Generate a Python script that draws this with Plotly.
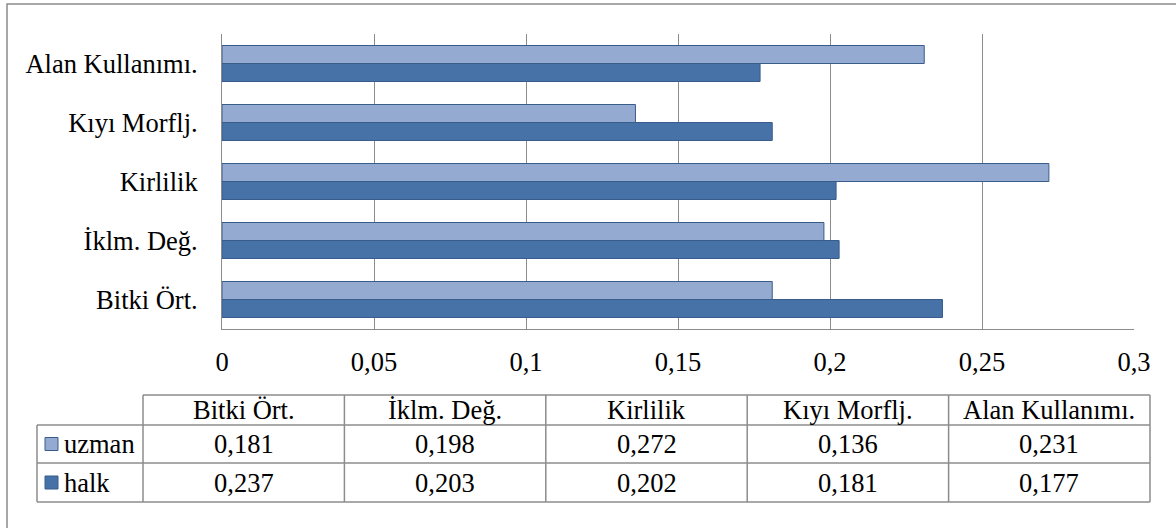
import plotly.graph_objects as go

categories = ["Bitki Ört.", "İklm. Değ.", "Kirlilik", "Kıyı Morflj.", "Alan Kullanımı."]
uzman = [0.181, 0.198, 0.272, 0.136, 0.231]
halk = [0.237, 0.203, 0.202, 0.181, 0.177]
series_names = ["uzman", "halk"]
tick_vals = [0, 0.05, 0.1, 0.15, 0.2, 0.25, 0.3]
tick_text = ["0", "0,05", "0,1", "0,15", "0,2", "0,25", "0,3"]

W, H = 1176, 528
FONT = "Liberation Serif"
FS = 26.5
C_LIGHT = "#95AAD1"
C_DARK = "#4672A8"
C_EDGE = "#385D8A"
GRID = "#8C8C8C"

def px(x):
    return x / W

def py(y):
    return 1 - y / H

# plot area in pixels
PL, PR, PT, PB = 222, 1134, 34, 329

fig = go.Figure()
fig.add_trace(go.Bar(y=categories, x=halk, orientation="h", name="halk",
                     marker=dict(color=C_DARK, line=dict(color=C_EDGE, width=1))))
fig.add_trace(go.Bar(y=categories, x=uzman, orientation="h", name="uzman",
                     marker=dict(color=C_LIGHT, line=dict(color=C_EDGE, width=1))))

shapes = []
anns = []

# outer chart border (left and top visible)
shapes.append(dict(type="rect", xref="paper", yref="paper",
                   x0=px(7), x1=px(W + 10), y0=py(H + 10), y1=py(4),
                   line=dict(color="#8C8C8C", width=1.5), fillcolor="rgba(0,0,0,0)", layer="below"))

# data table geometry
TL_LEG, TL, TR = 37, 143, 1150
ROW_Y = [395, 425, 463, 502]
ncol = len(categories)
colw = (TR - TL) / ncol
tcol = "#8C8C8C"
lw = 1.5

def hline(x0, x1, y):
    shapes.append(dict(type="line", xref="paper", yref="paper", x0=px(x0), x1=px(x1),
                       y0=py(y), y1=py(y), line=dict(color=tcol, width=lw)))

def vline(x, y0, y1):
    shapes.append(dict(type="line", xref="paper", yref="paper", x0=px(x), x1=px(x),
                       y0=py(y0), y1=py(y1), line=dict(color=tcol, width=lw)))

hline(TL, TR, ROW_Y[0])
for y in ROW_Y[1:]:
    hline(TL_LEG, TR, y)
vline(TL_LEG, ROW_Y[1], ROW_Y[3])
for i in range(ncol + 1):
    vline(TL + i * colw, ROW_Y[0], ROW_Y[3])

def text(x, y, s, xanchor="center"):
    anns.append(dict(x=px(x), y=py(y), xref="paper", yref="paper", text=s, showarrow=False,
                     xanchor=xanchor, yanchor="middle", font=dict(family=FONT, size=FS, color="black")))

for i, c in enumerate(categories):
    cx = TL + (i + 0.5) * colw
    text(cx, (ROW_Y[0] + ROW_Y[1]) / 2, c)
    text(cx, (ROW_Y[1] + ROW_Y[2]) / 2, f"{uzman[i]:.3f}".replace(".", ","))
    text(cx, (ROW_Y[2] + ROW_Y[3]) / 2, f"{halk[i]:.3f}".replace(".", ","))

for r, (name, col) in enumerate(zip(series_names, [C_LIGHT, C_DARK])):
    yc = (ROW_Y[r + 1] + ROW_Y[r + 2]) / 2
    shapes.append(dict(type="rect", xref="paper", yref="paper",
                       x0=px(45), x1=px(58), y0=py(yc + 6.5), y1=py(yc - 6.5),
                       fillcolor=col, line=dict(color=C_EDGE, width=1)))
    text(62, yc, name, xanchor="left")

fig.update_layout(
    width=W, height=H,
    margin=dict(l=0, r=0, t=0, b=0),
    paper_bgcolor="white", plot_bgcolor="white",
    barmode="group", bargap=0.39, bargroupgap=0,
    showlegend=False,
    font=dict(family=FONT, size=FS, color="black"),
    xaxis=dict(domain=[px(PL), px(PR)], range=[0, 0.3], tickvals=tick_vals, ticktext=tick_text,
               showgrid=True, gridcolor=GRID, gridwidth=1, zeroline=False, automargin=False,
               showline=True, linecolor=GRID, linewidth=1, ticks="",
               ticklabelstandoff=9, tickfont=dict(family=FONT, size=FS, color="black")),
    yaxis=dict(domain=[py(PB), py(PT)], type="category", categoryorder="array",
               categoryarray=categories, showgrid=False, zeroline=False, automargin=False,
               showline=True, linecolor=GRID, linewidth=1, ticks="",
               ticklabelstandoff=18, tickfont=dict(family=FONT, size=FS, color="black")),
    shapes=shapes, annotations=anns,
)

fig.write_html("out.html")
